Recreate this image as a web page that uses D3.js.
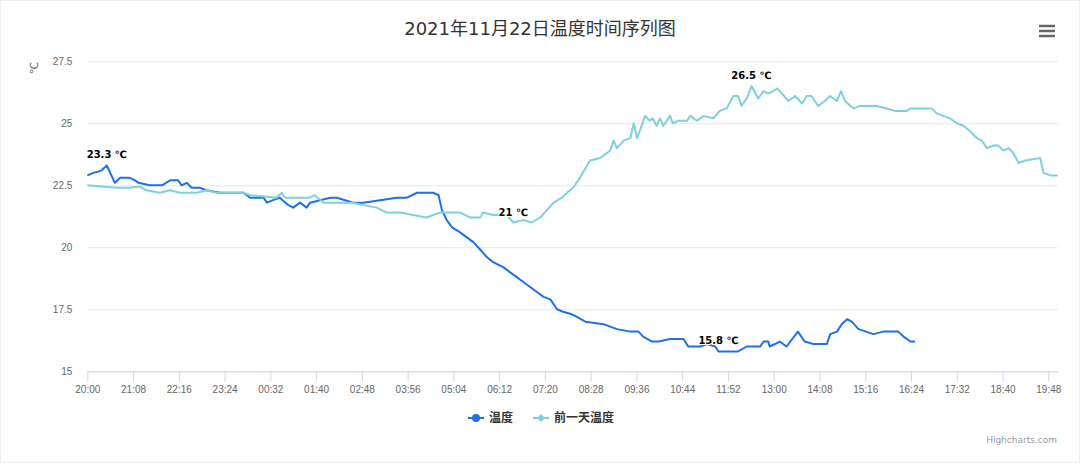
<!DOCTYPE html>
<html>
<head>
<meta charset="utf-8">
<script src="https://cdn.jsdelivr.net/npm/d3@7"></script>
<style>
  body { margin: 0; background: #fff; }
  svg { font-family: "Lucida Grande", "DejaVu Sans", "Noto Sans CJK SC", sans-serif; }
</style>
</head>
<body>
<div id="chart"></div>
<script>
// minutes after 20:00 (previous evening) and readings in ℃
var tempMinutes = [0, 9, 16, 21, 29, 41, 49, 63, 71, 76, 93, 111, 123, 135, 140, 148, 155, 167, 177, 197,
    219, 232, 242, 262, 267, 276, 286, 299, 306, 316, 326, 331, 346, 361, 371, 383, 395, 410, 435, 460,
    475, 490, 514, 522, 527, 534, 542, 554, 564, 574, 584, 594, 603, 618, 633, 648, 663, 678, 688, 698,
    707, 720, 727, 740, 767, 787, 807, 819, 826, 839, 849, 866, 886, 893, 911, 921, 933, 938, 950, 967,
    980, 1000, 1005, 1012, 1014, 1022, 1029, 1039, 1056, 1066, 1079, 1099, 1104, 1114, 1121, 1129, 1136, 1146, 1168, 1183,
    1205, 1213, 1223, 1230];
var tempValues = [22.9, 23.0, 23.05, 23.1, 23.3, 22.6, 22.8, 22.8, 22.7, 22.6, 22.5, 22.5, 22.7, 22.7, 22.5, 22.6, 22.4, 22.4, 22.3, 22.2,
    22.2, 22.2, 22.0, 22.0, 21.8, 21.9, 22.0, 21.7, 21.6, 21.8, 21.6, 21.8, 21.9, 22.0, 22.0, 21.9, 21.8, 21.8, 21.9, 22.0,
    22.0, 22.2, 22.2, 22.1, 21.5, 21.1, 20.8, 20.6, 20.4, 20.2, 19.9, 19.6, 19.4, 19.2, 18.9, 18.6, 18.3, 18.0, 17.9, 17.5,
    17.4, 17.3, 17.2, 17.0, 16.9, 16.7, 16.6, 16.6, 16.4, 16.2, 16.2, 16.3, 16.3, 16.0, 16.0, 16.1, 16.0, 15.8, 15.8, 15.8,
    16.0, 16.0, 16.2, 16.2, 16.0, 16.1, 16.2, 16.0, 16.6, 16.2, 16.1, 16.1, 16.5, 16.6, 16.9, 17.1, 17.0, 16.7, 16.5, 16.6,
    16.6, 16.4, 16.2, 16.2];

var prevMinutes = [0, 44, 63, 78, 88, 108, 123, 138, 163, 177, 192, 217, 232, 242, 281, 289, 294, 331, 338, 351,
    376, 395, 410, 430, 445, 465, 484, 504, 524, 554, 569, 584, 588, 603, 623, 633, 648, 660, 673, 683,
    693, 705, 717, 722, 732, 747, 762, 777, 782, 787, 797, 807, 812, 817, 821, 829, 836, 840, 846, 851,
    856, 866, 870, 878, 891, 896, 906, 916, 930, 940, 950, 960, 967, 972, 980, 987, 997, 1005, 1012, 1019,
    1025, 1029, 1042, 1052, 1062, 1069, 1076, 1086, 1096, 1104, 1114, 1120, 1126, 1134, 1139, 1148, 1158, 1173, 1188, 1200,
    1218, 1223, 1255, 1262, 1272, 1282, 1292, 1302, 1311, 1322, 1329, 1337, 1346, 1354, 1361, 1369, 1376, 1384, 1394, 1416,
    1421, 1431, 1442];
var prevValues = [22.5, 22.4, 22.4, 22.45, 22.3, 22.2, 22.3, 22.2, 22.2, 22.3, 22.2, 22.2, 22.2, 22.1, 22.0, 22.2, 22.0, 22.0, 22.1, 21.8,
    21.8, 21.8, 21.7, 21.6, 21.4, 21.4, 21.3, 21.2, 21.4, 21.4, 21.2, 21.2, 21.4, 21.3, 21.3, 21.0, 21.1, 21.0, 21.2, 21.5,
    21.8, 22.0, 22.3, 22.4, 22.8, 23.5, 23.6, 23.9, 24.3, 24.0, 24.3, 24.4, 25.0, 24.4, 24.7, 25.3, 25.1, 25.2, 24.9, 25.2,
    24.9, 25.3, 25.0, 25.1, 25.1, 25.3, 25.1, 25.3, 25.2, 25.5, 25.6, 26.1, 26.1, 25.7, 26.0, 26.5, 26.0, 26.3, 26.2, 26.3,
    26.4, 26.3, 25.9, 26.1, 25.8, 26.1, 26.1, 25.7, 25.9, 26.1, 25.9, 26.3, 25.9, 25.7, 25.6, 25.7, 25.7, 25.7, 25.6, 25.5,
    25.5, 25.6, 25.6, 25.4, 25.3, 25.2, 25.0, 24.9, 24.7, 24.4, 24.3, 24.0, 24.1, 24.1, 23.9, 24.0, 23.8, 23.4, 23.5, 23.6,
    23.0, 22.9, 22.9];

var xTickMinutes = [0, 68, 136, 204, 272, 340, 408, 476, 544, 612, 680, 748, 816, 884, 952, 1020, 1088, 1156, 1224, 1292, 1360, 1428];
var xTickLabels = ["20:00", "21:08", "22:16", "23:24", "00:32", "01:40", "02:48", "03:56", "05:04", "06:12", "07:20",
    "08:28", "09:36", "10:44", "11:52", "13:00", "14:08", "15:16", "16:24", "17:32", "18:40", "19:48"];
var yTicks = [15, 17.5, 20, 22.5, 25, 27.5];
var seriesNames = ["温度", "前一天温度"];
var seriesColors = ["#1f6ff0", "#7ed0dd"];

var width = 1080, height = 465;
var margin = {top: 61.3, right: 22.3, bottom: 93.7, left: 87.3};

var svg = d3.select("#chart").append("svg")
    .attr("width", width)
    .attr("height", height);

svg.append("rect")
    .attr("x", 0.5).attr("y", 0.5)
    .attr("width", width - 1).attr("height", height - 3)
    .attr("fill", "#fff")
    .attr("stroke", "#f0f0f0");

var x = d3.scaleLinear().domain([0, 1442]).range([margin.left, width - margin.right]);
var y = d3.scaleLinear().domain([15, 27.5]).range([height - margin.bottom, margin.top]);

// title
svg.append("text")
    .attr("x", width / 2)
    .attr("y", 35)
    .attr("text-anchor", "middle")
    .style("font-size", "18px")
    .style("fill", "#333")
    .text("2021年11月22日温度时间序列图");

// menu icon
[26, 31, 36].forEach(function(yy){
    svg.append("line")
        .attr("x1", 1039).attr("x2", 1055)
        .attr("y1", yy).attr("y2", yy)
        .attr("stroke", "#666")
        .attr("stroke-width", 2.5);
});

// grid + y labels
var yAxis = d3.axisLeft(y).tickValues(yTicks)
    .tickSize(-(width - margin.left - margin.right))
    .tickPadding(15)
    .tickFormat(function(d){ return d; });
var gy = svg.append("g").attr("transform", "translate(" + margin.left + ",0)").call(yAxis);
gy.select(".domain").remove();
gy.selectAll(".tick line").attr("stroke", "#e6e6e6");
gy.selectAll(".tick text").style("font-size", "10px").style("fill", "#666");

svg.append("text")
    .attr("transform", "translate(34,68) rotate(-90)")
    .attr("text-anchor", "middle")
    .attr("dy", "0.35em")
    .style("font-size", "11px")
    .style("fill", "#666")
    .text("℃");

// x axis
var xAxis = d3.axisBottom(x).tickValues(xTickMinutes)
    .tickSize(10)
    .tickPadding(5)
    .tickFormat(function(d, i){ return xTickLabels[i]; });
var gx = svg.append("g").attr("transform", "translate(0," + y(15) + ")").call(xAxis);
gx.select(".domain").attr("stroke", "#ccd6eb").attr("d", "M" + x(0) + ",0.5H" + x(1442));
gx.selectAll(".tick line").attr("stroke", "#ccd6eb");
gx.selectAll(".tick text").style("font-size", "10px").style("fill", "#666");

// series
var series = [
    {name: seriesNames[0], color: seriesColors[0], pts: tempMinutes.map(function(m, i){ return [m, tempValues[i]]; })},
    {name: seriesNames[1], color: seriesColors[1], pts: prevMinutes.map(function(m, i){ return [m, prevValues[i]]; })}
];

var line = d3.line()
    .x(function(d){ return x(d[0]); })
    .y(function(d){ return y(d[1]); });

series.forEach(function(s){
    svg.append("path")
        .datum(s.pts)
        .attr("d", line)
        .attr("fill", "none")
        .attr("stroke", s.color)
        .attr("stroke-width", 2)
        .attr("stroke-linejoin", "round");
});

// max / min data labels
var labels = [];
series.forEach(function(s){
    var vals = s.pts.map(function(p){ return p[1]; });
    labels.push(s.pts[d3.maxIndex(vals)]);
    labels.push(s.pts[d3.minIndex(vals)]);
});
svg.append("g").selectAll("text").data(labels).enter().append("text")
    .attr("x", function(d){ return x(d[0]); })
    .attr("y", function(d){ return y(d[1]) - 7; })
    .attr("text-anchor", "middle")
    .style("font-size", "10px")
    .style("font-weight", "bold")
    .style("fill", "#000")
    .style("stroke", "#fff")
    .style("stroke-width", 2)
    .style("paint-order", "stroke")
    .text(function(d){ return d[1] + " ℃"; });

// legend
var legendX = [468, 533];
series.forEach(function(s, i){
    var g = svg.append("g").attr("transform", "translate(" + legendX[i] + ",418)");
    g.append("line").attr("x1", 0).attr("x2", 16).attr("y1", 0).attr("y2", 0)
        .attr("stroke", s.color).attr("stroke-width", 2);
    if (i == 0) {
        g.append("circle").attr("cx", 8).attr("cy", 0).attr("r", 4).attr("fill", s.color);
    } else {
        g.append("path").attr("d", "M8,-4L12,0L8,4L4,0Z").attr("fill", s.color);
    }
    g.append("text")
        .attr("x", 21).attr("dy", "0.35em")
        .style("font-size", "12px")
        .style("font-weight", "bold")
        .style("fill", "#333")
        .text(s.name);
});

// credits
svg.append("text")
    .attr("x", 1057)
    .attr("y", 443)
    .attr("text-anchor", "end")
    .style("font-size", "9px")
    .style("fill", "#999")
    .text("Highcharts.com");
</script>
</body>
</html>
